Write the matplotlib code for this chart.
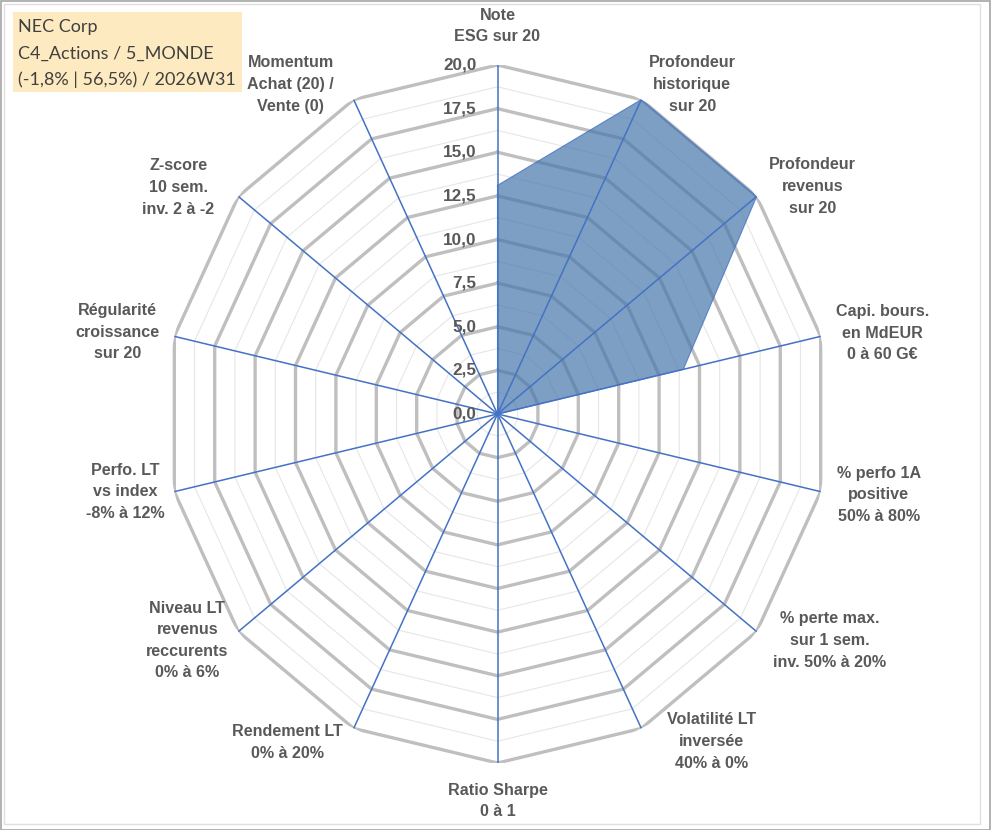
import numpy as np
import matplotlib
matplotlib.use("Agg")
import matplotlib.pyplot as plt
from matplotlib.patches import Rectangle

# axes of the radar (clockwise from top)
labels = [
    "Note\nESG sur 20",
    "Profondeur\nhistorique\nsur 20",
    "Profondeur\nrevenus\nsur 20",
    "Capi. bours.\nen MdEUR\n0 à 60 G€",
    "% perfo 1A\npositive\n50% à 80%",
    "% perte max.\nsur 1 sem.\ninv. 50% à 20%",
    "Volatilité LT\ninversée\n40% à 0%",
    "Ratio Sharpe\n0 à 1",
    "Rendement LT\n0% à 20%",
    "Niveau LT\nrevenus\nreccurents\n0% à 6%",
    "Perfo. LT\nvs index\n-8% à 12%",
    "Régularité\ncroissance\nsur 20",
    "Z-score\n10 sem.\ninv. 2 à -2",
    "Momentum\nAchat (20) /\nVente (0)",
]
scores = [13.1, 20.0, 20.0, 11.5, 0, 0, 0, 0, 0, 0, 0, 0, 0, 0]
ticks = [0, 2.5, 5, 7.5, 10, 12.5, 15, 17.5, 20]
tick_labels = ["0,0", "2,5", "5,0", "7,5", "10,0", "12,5", "15,0", "17,5", "20,0"]
info = ["NEC Corp", "C4_Actions / 5_MONDE", "(-1,8% | 56,5%) / 2026W31"]

# label offsets from each vertex, in pixels (right, up)
lab_off = [(0, 39), (51, 15), (56, 10), (62, 3), (58, -3), (73, -9), (70, -13),
           (0, -38), (-66, -14), (-51, -9), (-49, 0), (-57, 4), (-60, 9), (-63, 15)]

W, H = 991, 830
fig = plt.figure(figsize=(W / 100, H / 100), dpi=100)
ax = fig.add_axes([166 / W, 67 / H, 663 / W, 698 / H], projection="polar")
ax.set_theta_offset(np.pi / 2)
ax.set_theta_direction(-1)
ax.set_aspect("auto")
ax.set_ylim(0, 20)
ax.grid(False)
ax.spines["polar"].set_visible(False)
ax.set_xticks([])
ax.set_yticks([])
ax.patch.set_alpha(0)

n = len(labels)
ang = np.linspace(0, 2 * np.pi, n, endpoint=False)
ang_c = np.append(ang, ang[0])

gray = "#595959"

# minor rings
for r in np.arange(1.25, 20, 2.5):
    ax.plot(ang_c, [r] * (n + 1), color="#E6E6E6", lw=0.8, zorder=1)
# major rings
for r in ticks[1:]:
    ax.plot(ang_c, [r] * (n + 1), color="#BFBFBF", lw=2.4, zorder=2,
            solid_joinstyle="miter")

# data area
vals = np.append(scores, scores[0])
ax.fill(ang_c, vals, color="#4677AB", alpha=0.7, zorder=3, lw=0)
ax.plot(ang_c, vals, color="#4472C4", lw=0.8, alpha=0.8, zorder=3)

# spokes
for a in ang:
    ax.plot([a, a], [0, 20], color="#4472C4", lw=1.1, zorder=4)

# value ticks along the top spoke
for t, tl in zip(ticks, tick_labels):
    ax.annotate(tl, xy=(0, t), xytext=(-21, 0), textcoords="offset pixels",
                ha="right", va="center", fontsize=12.3, fontweight="bold",
                color=gray, family="Liberation Sans", zorder=5)

# axis labels
for a, lab, (dx, dy) in zip(ang, labels, lab_off):
    ax.annotate(lab, xy=(a, 20), xytext=(dx, dy), textcoords="offset pixels",
                ha="center", va="center", fontsize=11.6, fontweight="bold",
                color=gray, family="Liberation Sans", linespacing=1.55,
                annotation_clip=False)

# info box
fig.patches.append(Rectangle((13 / W, 1 - 92 / H), 229 / W, 80 / H,
                             transform=fig.transFigure, facecolor="#FDEAC0",
                             edgecolor="none", zorder=0))
for i, line in enumerate(info):
    fig.text(18 / W, 1 - (27 + 26.5 * i) / H, line, ha="left", va="center",
             fontsize=13, color="#404040", family="Lato")

# chart borders
fig.patches.append(Rectangle((0.5 / W, 0.5 / H), (W - 1.5) / W, (H - 1.5) / H,
                             transform=fig.transFigure, fill=False,
                             edgecolor="#A6A6A6", lw=1.2))
fig.patches.append(Rectangle((4 / W, 6 / H), 976 / W, 820 / H,
                             transform=fig.transFigure, fill=False,
                             edgecolor="#E0E0E0", lw=1))

fig.savefig("out.png", dpi=100)
